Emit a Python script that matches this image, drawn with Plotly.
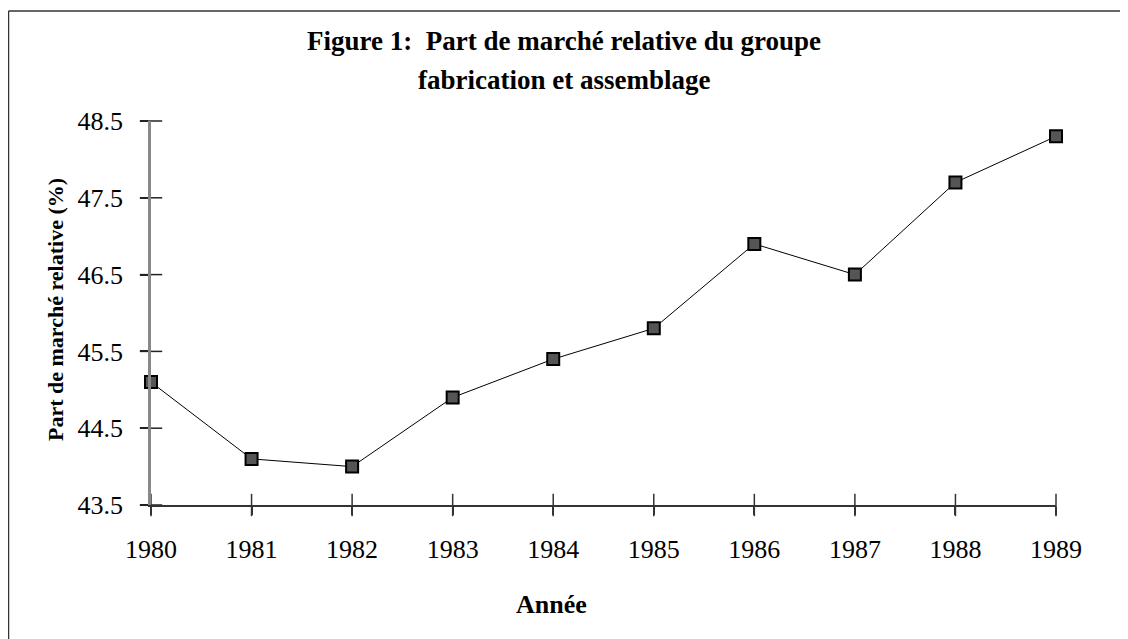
import plotly.graph_objects as go

years = [1980, 1981, 1982, 1983, 1984, 1985, 1986, 1987, 1988, 1989]
share = [45.1, 44.1, 44.0, 44.9, 45.4, 45.8, 46.9, 46.5, 47.7, 48.3]
year_labels = [str(y) for y in years]
y_ticks = [43.5, 44.5, 45.5, 46.5, 47.5, 48.5]
y_tick_labels = ["43.5", "44.5", "45.5", "46.5", "47.5", "48.5"]

title_line1 = "Figure 1:&nbsp; Part de marché relative du groupe"
title_line2 = "fabrication et assemblage"
x_title = "Année"
y_title = "Part de marché relative (%)"

OFF = 8  # default body margin of the html page
W, H = 1128 - OFF, 639 - OFF
# plot area in page pixels: x 151..1056, y 121..505
L, R = 151 - OFF, W - (1056 - OFF)
T, B = 121 - OFF, H - (505 - OFF)
pw, ph = W - L - R, H - T - B

def px_x(p):
    return (p - OFF - L) / pw

def px_y(p):
    return (H - B - (p - OFF)) / ph

FONT = "Liberation Serif"
y_lo, y_hi = y_ticks[0], y_ticks[-1]

fig = go.Figure()
# tick marks crossing the axes (drawn as line markers at tick values)
fig.add_trace(go.Scatter(
    x=years, y=[y_lo] * len(years), mode="markers",
    marker=dict(symbol="line-ns", size=16, line=dict(color="#333333", width=1.5)),
    cliponaxis=False, showlegend=False, hoverinfo="skip",
))
fig.add_trace(go.Scatter(
    x=[years[0]] * len(y_ticks), y=y_ticks, mode="markers",
    marker=dict(symbol="line-ew", size=16, line=dict(color="#222222", width=1.5)),
    cliponaxis=False, showlegend=False, hoverinfo="skip",
))
fig.add_trace(go.Scatter(
    x=years, y=share, mode="lines+markers",
    line=dict(color="#000000", width=1),
    marker=dict(symbol="square", size=12, color="#555555",
                line=dict(color="#000000", width=2)),
    cliponaxis=False, showlegend=False, hoverinfo="x+y",
))

axis_font = dict(family=FONT, size=26, color="#000000")
fig.update_layout(
    width=W, height=H,
    margin=dict(l=L, r=R, t=T, b=B, pad=0),
    paper_bgcolor="white", plot_bgcolor="white",
    font=dict(family=FONT, color="#000000"),
    xaxis=dict(range=[years[0], years[-1]], tickvals=years, ticktext=year_labels,
               showgrid=False, zeroline=False, showline=True,
               linecolor="#333333", linewidth=1.5,
               ticks="outside", ticklen=8, tickwidth=1.5, tickcolor="#333333",
               tickfont=axis_font, ticklabelstandoff=12),
    yaxis=dict(range=[y_lo, y_hi], tickvals=y_ticks, ticktext=y_tick_labels,
               showgrid=False, zeroline=False, showline=True,
               linecolor="#888888", linewidth=2.5,
               ticks="outside", ticklen=8, tickwidth=1.5, tickcolor="#222222",
               tickfont=axis_font, ticklabelstandoff=12),
    annotations=[
        dict(text="<b>" + title_line1 + "</b>", xref="paper", yref="paper",
             x=px_x(1128 / 2), y=px_y(41), xanchor="center", yanchor="middle",
             showarrow=False, font=dict(family=FONT, size=27)),
        dict(text="<b>" + title_line2 + "</b>", xref="paper", yref="paper",
             x=px_x(1128 / 2), y=px_y(80), xanchor="center", yanchor="middle",
             showarrow=False, font=dict(family=FONT, size=27)),
        dict(text="<b>" + x_title + "</b>", xref="paper", yref="paper",
             x=px_x(551), y=px_y(604), xanchor="center", yanchor="middle",
             showarrow=False, font=dict(family=FONT, size=26)),
        dict(text="<b>" + y_title + "</b>", xref="paper", yref="paper",
             x=px_x(55), y=px_y(310), xanchor="center", yanchor="middle",
             textangle=-90, showarrow=False, font=dict(family=FONT, size=22)),
    ],
    shapes=[
        dict(type="line", xref="paper", yref="paper",
             x0=px_x(8.5), x1=px_x(8.5), y0=px_y(11), y1=px_y(700),
             line=dict(color="#333333", width=1.5)),
        dict(type="line", xref="paper", yref="paper",
             x0=px_x(8.5), x1=px_x(1200), y0=px_y(11), y1=px_y(11),
             line=dict(color="#333333", width=1.5)),
    ],
)

fig.write_html("out.html")
